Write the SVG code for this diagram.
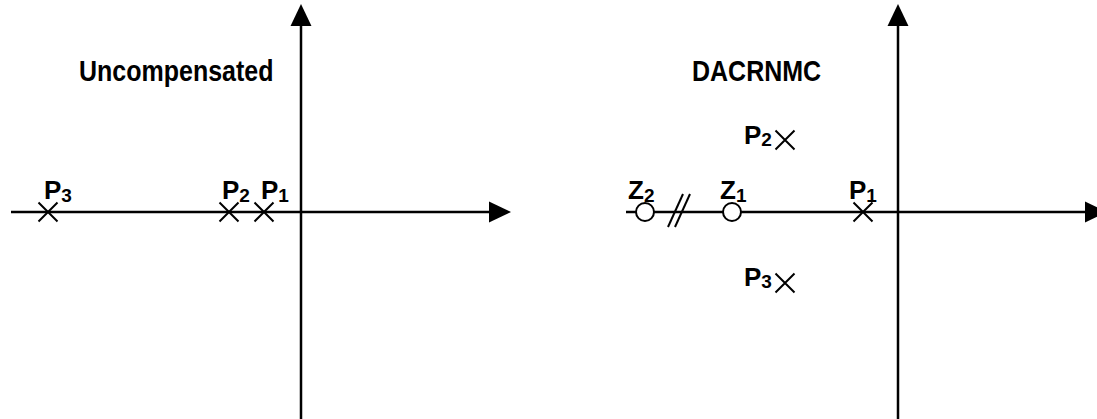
<svg xmlns="http://www.w3.org/2000/svg" width="1097" height="419" viewBox="0 0 1097 419">
<style>
.ax{stroke:#000;stroke-width:2.5;fill:none}
.x{stroke:#000;stroke-width:2;fill:none}
.z{stroke:#000;stroke-width:2;fill:#fff}
.t{font-family:"Liberation Sans",Arial,sans-serif;font-weight:bold;fill:#000}
.lb{font-size:26px}
.sb{font-size:19px}
.tt{font-size:25px}
</style>
<defs>
<marker id="ah" markerUnits="userSpaceOnUse" markerWidth="22" markerHeight="22" refX="0" refY="10" orient="auto" viewBox="0 0 21 20">
<polygon points="0,0 21,10 0,20" fill="#000"/>
</marker>
</defs>
<rect width="1097" height="419" fill="#fff"/>
<g id="connectors">
<line class="ax" x1="11" y1="212" x2="489" y2="212" marker-end="url(#ah)"/>
<line class="ax" x1="301" y1="419" x2="301" y2="26" marker-end="url(#ah)"/>
<line class="ax" x1="626" y1="212" x2="1085" y2="212" marker-end="url(#ah)"/>
<line class="ax" x1="898" y1="419" x2="898" y2="26" marker-end="url(#ah)"/>
<line class="x" x1="668" y1="227" x2="683" y2="194"/>
<line class="x" x1="675" y1="227" x2="690" y2="194"/>
</g>
<g id="title-left"><text class="t tt" transform="translate(79,81) scale(1,1.15)">Uncompensated</text></g>
<g id="title-right"><text class="t tt" transform="translate(692,81) scale(1,1.15)">DACRNMC</text></g>
<g id="L-P3">
<path class="x" d="M38.5,202.5L57.5,221.5M57.5,202.5L38.5,221.5"/>
<text class="t lb" x="44" y="199">P<tspan class="sb" dy="3">3</tspan></text>
</g>
<g id="L-P2">
<path class="x" d="M219.5,202.5L238.5,221.5M238.5,202.5L219.5,221.5"/>
<text class="t lb" x="222" y="199">P<tspan class="sb" dy="3">2</tspan></text>
</g>
<g id="L-P1">
<path class="x" d="M254.5,202.5L273.5,221.5M273.5,202.5L254.5,221.5"/>
<text class="t lb" x="261" y="199">P<tspan class="sb" dy="3">1</tspan></text>
</g>
<g id="R-Z2">
<circle class="z" cx="645" cy="212" r="9"/>
<text class="t lb" x="628" y="199">Z<tspan class="sb" dy="3">2</tspan></text>
</g>
<g id="R-Z1">
<circle class="z" cx="732" cy="212" r="9"/>
<text class="t lb" x="720" y="199">Z<tspan class="sb" dy="3">1</tspan></text>
</g>
<g id="R-P1">
<path class="x" d="M853.5,202.5L872.5,221.5M872.5,202.5L853.5,221.5"/>
<text class="t lb" x="849" y="199">P<tspan class="sb" dy="3">1</tspan></text>
</g>
<g id="R-P2">
<path class="x" d="M775.5,130.5L794.5,149.5M794.5,130.5L775.5,149.5"/>
<text class="t lb" x="744" y="144">P<tspan class="sb" dy="2">2</tspan></text>
</g>
<g id="R-P3">
<path class="x" d="M775.5,273.5L794.5,292.5M794.5,273.5L775.5,292.5"/>
<text class="t lb" x="744" y="286">P<tspan class="sb" dy="2">3</tspan></text>
</g>
</svg>
